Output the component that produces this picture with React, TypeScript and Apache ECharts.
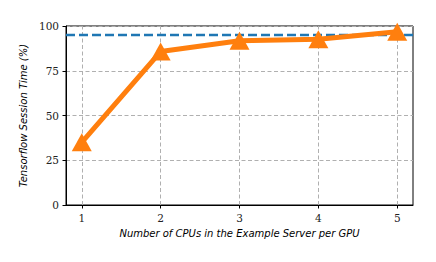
import React, { useEffect, useRef } from "react";
import * as echarts from "echarts";

const cpus = [1, 2, 3, 4, 5];
const sessionTime = [35, 85.7, 91.8, 92.6, 96.8];
const reference = 95;
const xTicks = [1, 2, 3, 4, 5];

export default function App() {
  const ref = useRef<HTMLDivElement>(null);
  useEffect(() => {
    const chart = echarts.init(ref.current!, null, { renderer: "svg" });
    const serif = "DejaVu Serif";
    const sans = "DejaVu Sans";
    chart.setOption({
      animation: false,
      backgroundColor: "#fff",
      grid: {
        left: 66,
        right: 23,
        top: 26,
        bottom: 57,
        show: true,
        borderColor: "#000",
        borderWidth: 1,
        backgroundColor: "transparent",
      },
      xAxis: {
        type: "value",
        min: 0.8,
        max: 5.2,
        name: "Number of CPUs in the Example Server per GPU",
        nameLocation: "middle",
        nameGap: 23,
        nameTextStyle: { fontFamily: sans, fontStyle: "italic", fontSize: 10, color: "#000" },
        axisLine: { show: true, lineStyle: { color: "#000", width: 1 } },
        axisTick: { show: true, customValues: xTicks, length: 3.5, inside: false, lineStyle: { color: "#000" } },
        axisLabel: { customValues: xTicks, margin: 7, fontFamily: serif, fontSize: 10.5, color: "#222" },
        splitLine: { show: false },
      },
      yAxis: {
        type: "value",
        min: 0,
        max: 100,
        interval: 25,
        name: "Tensorflow Session Time (%)",
        nameLocation: "middle",
        nameGap: 31,
        nameTextStyle: { fontFamily: sans, fontStyle: "italic", fontSize: 10, color: "#000" },
        axisLine: { show: true, lineStyle: { color: "#000", width: 1 } },
        axisTick: { show: true, length: 3.5, lineStyle: { color: "#000" } },
        axisLabel: { margin: 7, fontFamily: serif, fontSize: 10.5, color: "#222" },
        splitLine: { show: true, lineStyle: { color: "#b0b0b0", type: [4, 2.5], width: 1 } },
      },
      series: [
        {
          type: "line",
          data: [[0.8, reference], [5.2, reference]],
          showSymbol: false,
          symbol: "none",
          lineStyle: { color: "#1f77b4", width: 2.5, type: [9, 4] },
          z: 2,
          silent: true,
          markLine: {
            silent: true,
            symbol: "none",
            label: { show: false },
            lineStyle: { color: "#b0b0b0", type: [4, 2.5], width: 1 },
            data: xTicks.map((v) => ({ xAxis: v })),
            z: 1,
          },
        },
        {
          type: "line",
          data: cpus.map((c, i) => [c, sessionTime[i]]),
          symbol: "triangle",
          symbolSize: [20, 18],
          showAllSymbol: true,
          itemStyle: { color: "#ff7f0e" },
          lineStyle: { color: "#ff7f0e", width: 5 },
          z: 3,
        },
      ],
    });
    return () => chart.dispose();
  }, []);
  return (
    <div
      ref={ref}
      style={{ position: "absolute", left: 0, top: 0, width: 436, height: 262 }}
    />
  );
}
